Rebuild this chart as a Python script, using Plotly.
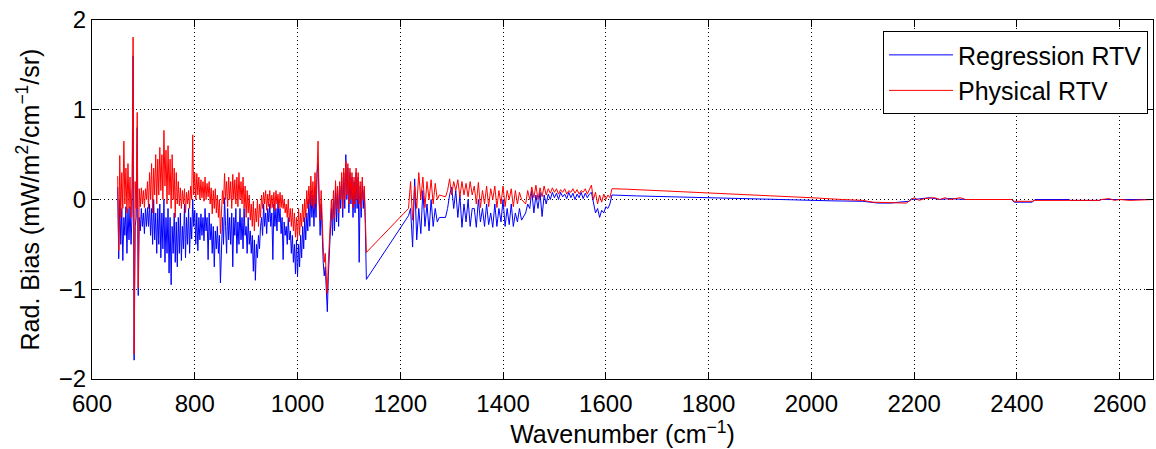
import plotly.graph_objects as go

# ---------------- data ----------------
# dense channel block 650-1134 cm-1, 2 cm-1 sampling
dense_wn = list(range(650, 1136, 2))

phys_dense = [
    0.26, -0.57, 0.49, -0.2, 0.3, -0.1, 0.65, -0.05, 0.35, -0.15,      # 650
    0.4, -0.1, 0.25, -0.2, 0.15, 1.81, -1.72, 0.2, -0.1, 0.97,         # 670
    -0.98, 0.12, -0.08, 0.13, -0.05, 0.1, -0.09, 0.12, 0.0, 0.2,       # 690
    -0.1, 0.3, 0.0, 0.4, -0.15, 0.35, 0.05, 0.5, -0.05, 0.45,          # 710
    0.05, 0.58, 0.1, 0.5, 0.0, 0.77, 0.15, 0.55, -0.05, 0.6,           # 730
    0.05, 0.45, -0.1, 0.5, 0.0, 0.35, -0.2, 0.3, -0.05, 0.2,           # 750
    -0.07, 0.13, -0.1, 0.1, -0.05, 0.12, -0.15, 0.08, -0.05, 0.1,      # 770
    -0.1, 0.15, 0.0, 0.72, 0.05, 0.3, 0.0, 0.29, 0.05, 0.25,           # 790
    0.0, 0.22, 0.02, 0.2, -0.02, 0.25, 0.0, 0.18, 0.03, 0.2,           # 810
    -0.05, 0.13, -0.16, 0.1, -0.1, 0.12, -0.15, 0.05, -0.2, 0.0,       # 830
    -0.38, -0.1, 0.1, -0.05, 0.29, 0.0, 0.2, -0.08, 0.25, 0.0,         # 850
    0.2, -0.1, 0.28, 0.0, 0.22, -0.05, 0.25, -0.08, 0.3, 0.0,          # 870
    0.2, -0.05, 0.25, -0.1, 0.15, -0.2, 0.1, -0.15, 0.05, -0.23,       # 890
    -0.05, -0.3, -0.02, -0.35, -0.1, -0.25, 0.0, -0.3, -0.05, -0.2,    # 910
    0.05, -0.1, 0.08, -0.05, 0.1, -0.12, 0.06, -0.08, 0.1, -0.1,       # 930
    0.05, -0.09, 0.08, -0.12, 0.1, -0.05, 0.06, -0.1, 0.08, -0.09,     # 950
    0.05, -0.1, 0.0, -0.15, -0.05, -0.2, 0.0, -0.25, -0.1, -0.3,       # 970
    -0.1, -0.35, -0.15, -0.42, -0.2, -0.45, -0.1, -0.4, -0.15, -0.3,   # 990
    -0.05, -0.25, 0.0, -0.2, 0.1, -0.1, 0.15, -0.05, 0.26, -0.07,      # 1010
    0.2, -0.1, 0.3, -0.05, 0.48, 0.65, 0.0, -0.23, 0.1, -0.35,         # 1030
    -0.53, -0.7, -0.6, -0.86, -1.05, -0.7, -0.4, -0.2, 0.0, -0.23,     # 1050
    0.1, -0.2, 0.21, -0.1, 0.15, -0.15, 0.2, 0.0, 0.3, -0.1,           # 1070
    0.35, 0.0, 0.43, 0.05, 0.4, -0.05, 0.35, 0.0, 0.3, -0.09,          # 1090
    0.25, -0.05, 0.35, 0.0, 0.3, -0.05, 0.2, -0.1, 0.25, 0.0,          # 1110
    0.15, -0.2, -0.59,                                                 # 1130
]

reg_dense = [
    0.14, -0.66, 0.0, -0.5, -0.1, -0.68, -0.2, -0.4, -0.08, -0.6,      # 650
    -0.1, -0.45, -0.08, -0.5, -0.15, 1.6, -1.79, -0.3, -0.2, 0.8,      # 670
    -1.07, -0.2, -0.35, -0.1, -0.3, -0.15, -0.38, -0.1, -0.3, -0.09,   # 690
    -0.3, -0.05, -0.4, -0.1, -0.5, 0.0, -0.45, -0.15, -0.6, -0.1,      # 710
    -0.5, -0.05, -0.65, -0.15, -0.55, 0.0, -0.7, -0.2, -0.6, -0.1,     # 730
    -0.82, -0.2, -0.95, -0.3, -0.6, -0.15, -0.7, -0.25, -0.75, -0.2,   # 750
    -0.6, -0.15, -0.68, -0.3, -0.55, -0.05, -0.65, -0.2, -0.5, -0.1,   # 770
    -0.6, -0.2, -0.44, 0.0, -0.3, -0.12, -0.5, -0.15, -0.57, -0.2,     # 790
    -0.45, -0.16, -0.4, -0.2, -0.46, -0.1, -0.35, -0.2, -0.67, -0.15,  # 810
    -0.45, -0.27, -0.6, -0.3, -0.75, -0.35, -0.55, -0.3, -0.6, -0.4,   # 830
    -0.93, -0.4, -0.2, -0.5, 0.02, -0.3, -0.6, -0.1, -0.45, -0.2,      # 850
    -0.5, -0.15, -0.75, -0.2, -0.4, -0.1, -0.6, -0.25, -0.5, -0.1,     # 870
    -0.45, -0.2, -0.55, -0.1, -0.4, -0.3, -0.6, -0.2, -0.5, -0.35,     # 890
    -0.6, -0.4, -0.8, -0.45, -0.9, -0.5, -0.65, -0.4, -0.55, -0.3,     # 910
    -0.2, -0.4, -0.05, -0.3, -0.15, -0.38, -0.1, -0.25, -0.05, -0.3,   # 930
    -0.15, -0.67, -0.05, -0.3, -0.1, -0.35, 0.0, -0.25, -0.1, -0.38,   # 950
    -0.2, -0.67, -0.25, -0.4, -0.3, -0.5, -0.2, -0.45, -0.35, -0.6,    # 970
    -0.4, -0.7, -0.5, -0.83, -0.45, -0.86, -0.5, -0.75, -0.4, -0.65,   # 990
    -0.3, -0.55, -0.2, -0.45, -0.15, -0.35, 0.0, -0.3, 0.1, -0.2,      # 1010
    0.05, -0.3, 0.1, -0.2, 0.3, 0.4, -0.1, -0.4, -0.05, -0.5,          # 1030
    -0.7, -0.85, -0.75, -1.0, -1.25, -0.85, -0.55, -0.35, -0.1, -0.4,  # 1050
    0.0, -0.35, 0.15, -0.25, 0.1, -0.3, 0.15, -0.1, 0.25, -0.2,        # 1070
    0.3, -0.1, 0.5, 0.0, 0.35, -0.15, 0.3, -0.05, 0.25, -0.2,          # 1090
    0.2, -0.15, 0.3, -0.1, 0.25, -0.7, 0.15, -0.2, 0.2, -0.1,          # 1110
    0.1, -0.3, -0.89,                                                  # 1130
]

# mid-wave block 1216-1608 cm-1, 4 cm-1 sampling (with channel gaps)
mid_wn = (list(range(1216, 1280, 4)) + [1288] + list(range(1292, 1344, 4))
          + list(range(1344, 1440, 4)) + list(range(1444, 1612, 4)))

phys_mid = [
    -0.1, 0.2, -0.23, 0.15, -0.1, 0.3, 0.0, 0.25, -0.09, 0.2, 0.0, 0.22, -0.05, 0.18, 0.0, 0.05,
    0.03,
    0.1, 0.23, 0.05, 0.2, 0.1, 0.22, 0.03, 0.2, 0.05, 0.18, 0.03, 0.2, 0.05,
    0.15, -0.05, 0.19, -0.09, 0.1, -0.05, 0.15, -0.08, 0.12, 0.0, 0.15, -0.09,
    0.1, -0.05, 0.15, -0.08, 0.1, 0.0, 0.12, -0.08, 0.1, -0.05, 0.08, 0.0,
    -0.05, 0.1, 0.0, 0.14, 0.02, 0.16, 0.0, 0.13, 0.03, 0.15, 0.05,
    0.12, 0.07, 0.13, 0.08, 0.12, 0.06, 0.11, 0.08, 0.12, 0.06, 0.1,
    0.08, 0.12, 0.07, 0.11, 0.06, 0.1, 0.08, 0.12, 0.06, 0.11, 0.16,
    0.0, 0.08, -0.05, 0.05, -0.03, 0.06, 0.0, 0.05, 0.02,
]

reg_mid = [
    -0.18, -0.1, -0.53, 0.23, -0.45, -0.1, -0.38, 0.1, -0.3, -0.05, -0.35, 0.0, -0.3, -0.1, -0.25, -0.2,
    -0.2,
    -0.1, 0.05, 0.14, -0.1, 0.1, -0.2, 0.05, -0.31, -0.05, -0.25, 0.0, -0.3, -0.1,
    -0.1, -0.31, 0.0, -0.25, -0.1, -0.3, -0.05, -0.28, -0.15, -0.31, -0.05, -0.3,
    -0.1, -0.25, 0.0, -0.3, -0.1, -0.28, -0.05, -0.3, -0.15, -0.25, -0.1, -0.23,
    -0.15, -0.05, -0.1, 0.1, -0.15, 0.05, -0.1, 0.08, -0.19, 0.05, -0.05,
    0.06, 0.0, 0.08, 0.02, 0.07, 0.0, 0.08, 0.03, 0.06, 0.01, 0.08,
    0.02, 0.07, 0.0, 0.06, 0.02, 0.08, 0.01, 0.07, 0.02, 0.06, 0.08,
    -0.05, -0.15, -0.1, -0.2, -0.12, -0.15, -0.08, -0.1, -0.05,
]

# short-wave block 1612-2665 cm-1 (sparse channels)
phys_sw_wn = [1612, 1640, 1700, 1760, 1820, 1880, 1940, 2000, 2060, 2100, 2120, 2170,
              2185, 2195, 2200, 2210, 2220, 2240, 2250, 2260, 2270, 2290, 2300, 2390,
              2395, 2430, 2435, 2500, 2560, 2565, 2580, 2590, 2600, 2620, 2665]
phys_sw = [0.12, 0.115, 0.1, 0.085, 0.07, 0.055, 0.04, 0.02, 0.0, -0.01, -0.03, -0.04,
           -0.04, 0.0, 0.02, -0.01, 0.01, 0.02, 0.0, 0.02, 0.0, 0.02, 0.0, 0.0,
           -0.02, -0.02, -0.01, -0.01, -0.01, 0.0, 0.01, -0.01, 0.0, -0.01, 0.0]

reg_sw_wn = [1612, 1660, 1750, 1850, 1940, 2040, 2100, 2130, 2155, 2170, 2190, 2195,
             2200, 2230, 2250, 2270, 2300, 2390, 2395, 2430, 2435, 2500, 2505, 2560,
             2565, 2665]
reg_sw = [0.05, 0.04, 0.025, 0.01, 0.0, -0.015, -0.02, -0.04, -0.04, -0.03, -0.02, 0.01,
          0.0, 0.02, 0.0, 0.01, 0.0, 0.0, -0.03, -0.03, 0.0, 0.0, -0.01, -0.01,
          0.0, 0.0]

x_ticks = [600, 800, 1000, 1200, 1400, 1600, 1800, 2000, 2200, 2400, 2600]
y_ticks = [-2, -1, 0, 1, 2]

# ---------------- figure ----------------
reg_x = dense_wn + mid_wn + reg_sw_wn
reg_y = reg_dense + reg_mid + reg_sw
phys_x = dense_wn + mid_wn + phys_sw_wn
phys_y = phys_dense + phys_mid + phys_sw

FONT = "Liberation Sans"

fig = go.Figure()
fig.add_trace(go.Scatter(x=reg_x, y=reg_y, mode="lines", name="Regression RTV",
                         line=dict(color="#0000ff", width=1)))
fig.add_trace(go.Scatter(x=phys_x, y=phys_y, mode="lines", name="Physical RTV",
                         line=dict(color="#ff0000", width=1)))

axis_common = dict(
    showline=True, linecolor="black", linewidth=1, mirror="allticks",
    ticks="inside", ticklen=7, tickcolor="black", tickwidth=1,
    showgrid=True, gridcolor="black", gridwidth=1, griddash="1px,3px",
    zeroline=False, tickfont=dict(family=FONT, size=24, color="black"),
)

fig.update_layout(
    width=1156, height=449,
    margin=dict(l=92, r=3, t=20, b=70),
    paper_bgcolor="white", plot_bgcolor="white",
    font=dict(family=FONT, size=24, color="black"),
    xaxis=dict(range=[600, 2665], tickvals=x_ticks, ticklabelstandoff=3,
               title=dict(text="Wavenumber (cm<sup>−1</sup>)", standoff=8,
                          font=dict(family=FONT, size=25)),
               **axis_common),
    yaxis=dict(range=[-2, 2], tickvals=y_ticks,
               title=dict(text="Rad. Bias (mW/m<sup>2</sup>/cm<sup>−1</sup>/sr)", standoff=12,
                          font=dict(family=FONT, size=25)),
               **axis_common),
    legend=dict(x=0.9953, y=0.969, xanchor="right", yanchor="top",
                bgcolor="white", bordercolor="black", borderwidth=1,
                font=dict(family=FONT, size=25), tracegroupgap=0,
                itemwidth=64),
    showlegend=True,
)

fig.write_html("out.html")
